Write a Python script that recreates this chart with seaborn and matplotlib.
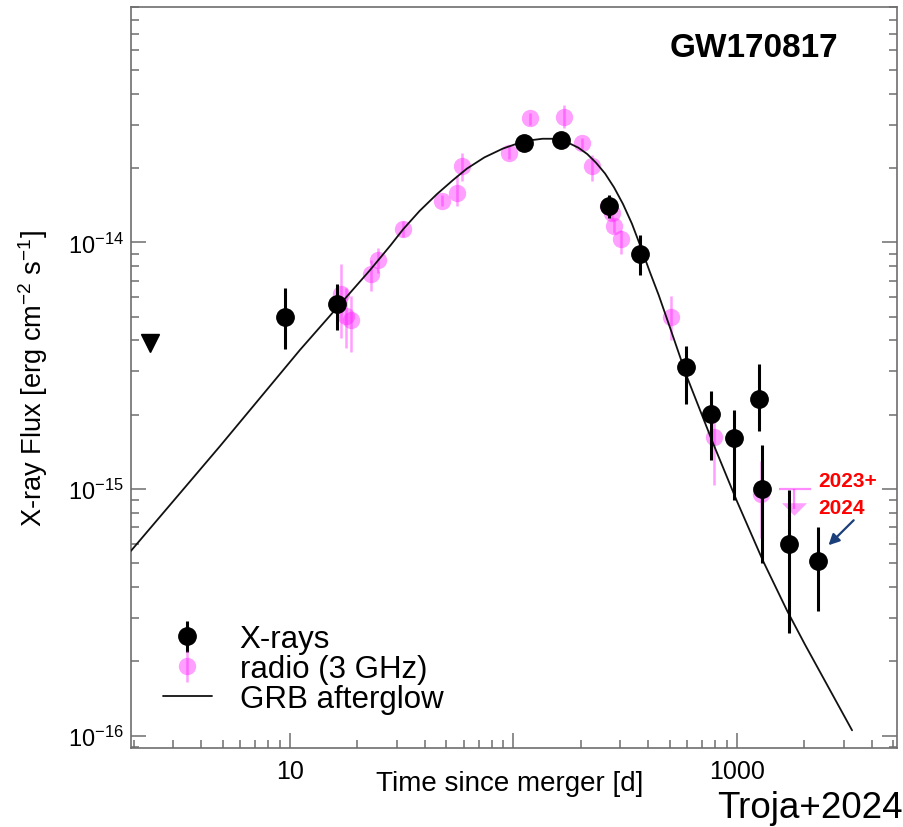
import numpy as np
import pandas as pd
import matplotlib
matplotlib.use("Agg")
import matplotlib.pyplot as plt
import seaborn as sns
from matplotlib.ticker import FixedLocator, FixedFormatter, LogLocator, NullFormatter
from matplotlib.lines import Line2D

# ---------------- data ----------------
xray_t = [9.5, 16.2, 111, 163, 267, 368, 591, 765, 970, 1253, 1295, 1710, 2300]
xray_f = [5.0e-15, 5.6e-15, 2.52e-14, 2.59e-14, 1.40e-14, 9.0e-15, 3.12e-15,
          2.01e-15, 1.61e-15, 2.31e-15, 1.0e-15, 6.0e-16, 5.1e-16]
xray_hi = [6.5e-15, 6.8e-15, 2.65e-14, 2.72e-14, 1.55e-14, 1.07e-14, 3.8e-15,
           2.5e-15, 2.09e-15, 3.2e-15, 1.5e-15, 9.9e-16, 7.0e-16]
xray_lo = [3.7e-15, 4.4e-15, 2.40e-14, 2.47e-14, 1.25e-14, 7.35e-15, 2.2e-15,
           1.31e-15, 9.0e-16, 1.72e-15, 5.0e-16, 2.6e-16, 3.2e-16]

xray_ul_t = [2.37]
xray_ul_f = [3.9e-15]

radio_t = [16.9, 17.8, 18.75, 23.0, 24.8, 32.1, 47.9, 55.8, 58.9, 95.5, 118.6,
           168, 202, 224, 265, 276, 282, 303, 507, 789, 1280]
radio_f = [6.16e-15, 5.01e-15, 4.83e-15, 7.42e-15, 8.45e-15, 1.13e-14, 1.47e-14,
           1.59e-14, 2.03e-14, 2.31e-14, 3.18e-14, 3.21e-14, 2.52e-14, 2.03e-14,
           1.41e-14, 1.31e-14, 1.16e-14, 1.03e-14, 4.97e-15, 1.63e-15, 9.55e-16]
radio_hi = [8.2e-15, 6.5e-15, 6.04e-15, 8.45e-15, 9.46e-15, 1.22e-14, 1.55e-14,
            1.87e-14, 2.31e-14, 2.45e-14, 3.35e-14, 3.59e-14, 2.65e-14, 2.27e-14,
            1.50e-14, 1.40e-14, 1.24e-14, 1.12e-14, 6.04e-15, 2.19e-15, 1.30e-15]
radio_lo = [4.08e-15, 3.72e-15, 3.59e-15, 6.34e-15, 7.49e-15, 1.05e-14, 1.40e-14,
            1.40e-14, 1.77e-14, 2.18e-14, 3.0e-14, 2.9e-14, 2.4e-14, 1.78e-14,
            1.33e-14, 1.23e-14, 1.09e-14, 9.0e-15, 4.01e-15, 1.04e-15, 6.34e-16]

radio_ul_t = [1800]
radio_ul_f = [1.0e-15]
radio_ul_tlo = [1540]
radio_ul_thi = [2140]
radio_ul_arrow_f = [8.3e-16]

model_t = [1.944, 4.86, 11.08, 22.8, 28.2, 32.1, 38.0, 45.5, 53.7, 61.9, 74.1,
           89.7, 104.7, 121.9, 134.9, 147.9, 162.2, 177.8, 195.0, 213.8, 234.4,
           257.0, 281.8, 309.0, 338.8, 371.5, 407.4, 446.7, 501.2, 597, 782,
           1000, 1306, 1675, 2014, 3273]
model_f = [5.61e-16, 1.49e-15, 3.66e-15, 7.71e-15, 9.73e-15, 1.13e-14, 1.34e-14,
           1.57e-14, 1.79e-14, 1.99e-14, 2.21e-14, 2.40e-14, 2.52e-14, 2.60e-14,
           2.63e-14, 2.63e-14, 2.59e-14, 2.52e-14, 2.42e-14, 2.28e-14, 2.10e-14,
           1.90e-14, 1.67e-14, 1.43e-14, 1.19e-14, 9.55e-15, 7.59e-15, 6.10e-15,
           4.52e-15, 2.85e-15, 1.53e-15, 8.91e-16, 5.12e-16, 3.21e-16, 2.34e-16,
           1.05e-16]

# ---------------- style ----------------
sns.set_theme(style="ticks")
plt.rcParams["font.family"] = ["Liberation Sans", "DejaVu Sans"]
plt.rcParams.update({
    "mathtext.default": "regular",
    "text.color": "black",
    "axes.labelcolor": "black",
    "xtick.labelcolor": "black",
    "ytick.labelcolor": "black",
})

fig = plt.figure(figsize=(9.04, 8.28), dpi=100)
ax = fig.add_axes([131 / 904, 1 - 749 / 828, 766 / 904, 741 / 828])

pink = "#ff1aff"
spine_col = "#6e6e6e"

# radio points
rf = np.array(radio_f)
r_err = [rf - np.array(radio_lo), np.array(radio_hi) - rf]
rad = ax.errorbar(radio_t, radio_f, yerr=r_err, fmt="o", ms=12.5, color=pink,
                  mec="none", alpha=0.42, elinewidth=1.8, capsize=0, zorder=2)

# radio upper limit
ulf = np.array(radio_ul_f)
ax.errorbar(radio_ul_t, radio_ul_f,
            xerr=[np.array(radio_ul_t) - np.array(radio_ul_tlo),
                  np.array(radio_ul_thi) - np.array(radio_ul_t)],
            yerr=[ulf - np.array(radio_ul_arrow_f), np.zeros_like(ulf)],
            fmt="none", ecolor=pink, alpha=0.5, elinewidth=1.6, capsize=0, zorder=2)
tri = [(-1.0, 0.5), (1.0, 0.5), (0.0, -0.5), (-1.0, 0.5)]
ax.plot(radio_ul_t, radio_ul_arrow_f, linestyle="none", marker=tri, ms=18,
        color=pink, mec="none", alpha=0.42, zorder=2)

# model curve
df_model = pd.DataFrame({"t": model_t, "f": model_f})
sns.lineplot(data=df_model, x="t", y="f", ax=ax, color="#111111", lw=1.3,
             sort=False, zorder=3)

# x-ray points
xf = np.array(xray_f)
x_err = [xf - np.array(xray_lo), np.array(xray_hi) - xf]
xr = ax.errorbar(xray_t, xray_f, yerr=x_err, fmt="o", ms=12.5, color="black",
                 elinewidth=2.2, capsize=0, zorder=4)
ax.plot(xray_ul_t, xray_ul_f, linestyle="none", marker="v", ms=12.5,
        color="black", zorder=4)

# ---------------- axes ----------------
ax.set_xscale("log")
ax.set_yscale("log")
ax.set_xlim(1.944, 5200)
ax.set_ylim(8.9e-17, 9.0e-14)

ax.xaxis.set_major_locator(FixedLocator([10, 100, 1000]))
ax.xaxis.set_major_formatter(FixedFormatter(["10", "", "1000"]))
ax.xaxis.set_minor_locator(LogLocator(base=10, subs=np.arange(2, 10), numticks=20))
ax.xaxis.set_minor_formatter(NullFormatter())
ax.yaxis.set_major_locator(FixedLocator([1e-16, 1e-15, 1e-14]))
ax.yaxis.set_minor_locator(LogLocator(base=10, subs=np.arange(2, 10), numticks=20))
ax.yaxis.set_minor_formatter(NullFormatter())

ax.tick_params(which="both", direction="in", color=spine_col, width=1.1,
               right=True, top=False, labelcolor="black")
ax.tick_params(axis="x", labelsize=18, pad=8)
ax.tick_params(axis="y", labelsize=17, pad=5)
ax.tick_params(which="major", length=11)
ax.tick_params(which="minor", length=6)
for s in ax.spines.values():
    s.set_color(spine_col)
    s.set_linewidth(1.2)

ax.set_xlabel("Time since merger [d]", fontsize=20, color="black")
ax.xaxis.set_label_coords(0.495, -0.030)
ax.set_ylabel("X-ray Flux [erg cm$^{-2}$ s$^{-1}$]", fontsize=19.6, color="black")
ax.yaxis.set_label_coords(-0.106, 0.5)

# ---------------- annotations ----------------
ax.text(0.813, 0.946, "GW170817", transform=ax.transAxes, fontsize=24,
        fontweight="bold", ha="center", va="center", color="black")
ax.text(0.897, 0.361, "2023+", transform=ax.transAxes, fontsize=15,
        fontweight="bold", color="#ff0000", ha="left", va="center")
ax.text(0.897, 0.324, "2024", transform=ax.transAxes, fontsize=15,
        fontweight="bold", color="#ff0000", ha="left", va="center")
ax.annotate("", xy=(0.908, 0.271), xytext=(0.946, 0.310), xycoords="axes fraction",
            textcoords="axes fraction",
            arrowprops=dict(arrowstyle="-|>", color="#1b3f7a", lw=1.6,
                            mutation_scale=16))
fig.text(0.999, 0.024, "Troja+2024", fontsize=26.5, ha="right", va="center",
         color="black")

# ---------------- legend ----------------
h_m = Line2D([], [], color="#111111", lw=1.3)
leg = ax.legend([xr, rad, h_m], ["X-rays", "radio (3 GHz)", "GRB afterglow"],
                loc="upper left", bbox_to_anchor=(0.042, 0.167), frameon=False,
                fontsize=22.5, handlelength=1.55, handletextpad=0.9,
                labelspacing=0.0, borderpad=0, borderaxespad=0)
for t in leg.get_texts():
    t.set_color("black")

fig.savefig("out.png", dpi=100)
